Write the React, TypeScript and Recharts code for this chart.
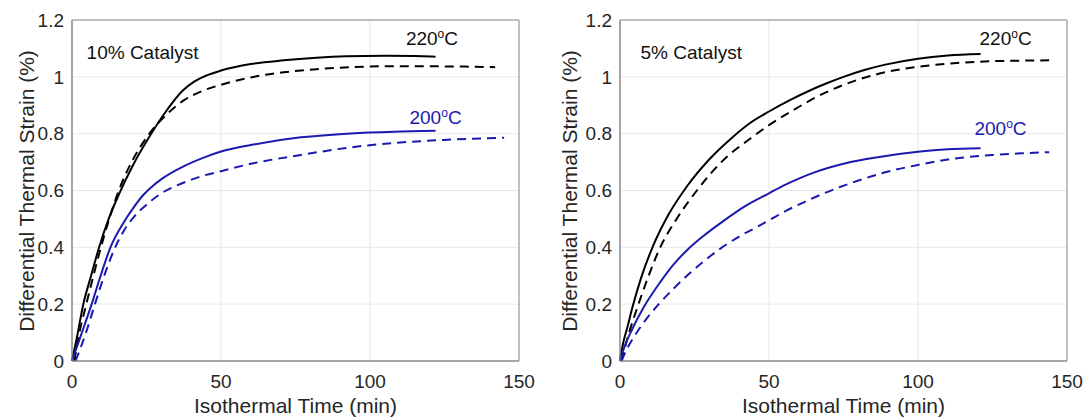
import React from 'react';
import { LineChart, Line, XAxis, YAxis, CartesianGrid, ReferenceArea, ReferenceDot } from 'recharts';

const xTicks = [0, 50, 100, 150];
const yTicks = [0, 0.2, 0.4, 0.6, 0.8, 1, 1.2];

// [time (min), strain (%)]
const cat10Hot = [
  [0, 0], [1.5, 0.075], [3.8, 0.2], [6.4, 0.3], [9.1, 0.4], [12.3, 0.5], [15.9, 0.59], [20.5, 0.69],
  [26, 0.79], [32, 0.885], [37, 0.95], [41, 0.983], [45, 1.004], [50, 1.022], [60, 1.045], [71, 1.058],
  [82, 1.067], [92, 1.072], [105, 1.074], [115, 1.073], [122, 1.071],
];
const cat10HotDash = [
  [0.8, 0], [2.5, 0.1], [4.8, 0.2], [7.2, 0.3], [9.7, 0.4], [12.5, 0.5], [15.7, 0.6], [20, 0.7],
  [25.6, 0.795], [32, 0.87], [37.6, 0.918], [43.2, 0.948], [50, 0.972], [60, 0.998], [71, 1.016],
  [82, 1.027], [93.6, 1.034], [105, 1.037], [120, 1.037], [132, 1.036], [142, 1.034],
];
const cat10Cool = [
  [0, 0], [3, 0.09], [6.6, 0.2], [9.6, 0.3], [12.9, 0.4], [17.5, 0.49], [21, 0.545], [24, 0.585],
  [27, 0.615], [30, 0.64], [37.6, 0.686], [44, 0.715], [50, 0.737], [60, 0.76], [76.8, 0.787],
  [93.6, 0.801], [108, 0.807], [122, 0.81],
];
const cat10CoolDash = [
  [1.2, 0], [4.7, 0.1], [7.7, 0.2], [10.8, 0.3], [14.5, 0.4], [17.5, 0.46], [21, 0.51], [25, 0.55],
  [30, 0.59], [37.6, 0.628], [44, 0.652], [50, 0.668], [60, 0.694], [76.8, 0.725], [93.6, 0.752],
  [108, 0.767], [125, 0.778], [145, 0.786],
];

// 5% catalyst panel
const cat5Hot = [
  [0, 0], [1, 0.06], [2.5, 0.12], [4.2, 0.19], [7, 0.29], [10.9, 0.4], [16, 0.51], [22.5, 0.615],
  [30, 0.71], [37.5, 0.785], [44, 0.84], [50, 0.878], [57, 0.918], [63.7, 0.952], [70, 0.98],
  [75, 1.0], [82, 1.024], [89, 1.043], [100, 1.064], [110, 1.075], [121, 1.08],
];
const cat5HotDash = [
  [0.5, 0], [2.5, 0.08], [6.2, 0.2], [9.6, 0.3], [13.5, 0.4], [19, 0.5], [25.8, 0.6], [34, 0.7],
  [44, 0.785], [50, 0.83], [58, 0.882], [68, 0.94], [79.3, 0.988], [89.4, 1.017], [100, 1.035],
  [112, 1.048], [125, 1.055], [135, 1.057], [144, 1.058],
];
const cat5Cool = [
  [0, 0], [1.5, 0.05], [4, 0.11], [8, 0.19], [13, 0.27], [18, 0.34], [23, 0.395], [28, 0.44],
  [35, 0.495], [42, 0.545], [50, 0.59], [55, 0.618], [60, 0.642], [65, 0.663], [70, 0.68],
  [76, 0.697], [87, 0.718], [100, 0.736], [110, 0.745], [121, 0.749],
];
const cat5CoolDash = [
  [0.5, 0], [2, 0.035], [5, 0.09], [9, 0.15], [13, 0.2], [18, 0.255], [23, 0.305], [28, 0.35],
  [34, 0.398], [40, 0.438], [46, 0.472], [50, 0.495], [56, 0.53], [62, 0.56], [68, 0.588],
  [74, 0.613], [80, 0.635], [89, 0.664], [100, 0.69], [112, 0.712], [125, 0.725], [135, 0.731],
  [144, 0.735],
];

const BLACK = '#000000';
const BLUE = '#1a1ab0';
const AXIS = '#8c8c8c';
const FONT = '"Liberation Sans", Arial, Helvetica, sans-serif';

const toPts = (arr: number[][]) => arr.map(([t, s]) => ({ t, s }));

function TempText({ viewBox, color, value }: any) {
  const cx = viewBox.x + viewBox.width / 2;
  const cy = viewBox.y + viewBox.height / 2;
  return (
    <text x={cx} y={cy + 7} textAnchor="middle" fill={color} fontSize={19} fontFamily={FONT}>
      {value}
      <tspan fontSize={12} dy={-7}>o</tspan>
      <tspan dy={7}>C</tspan>
    </text>
  );
}

function Panel({ left, width, yAxisWidth, marginRight, yLabelX, title, titleX, hot, hotDash, cool, coolDash, hotPos, coolPos }: any) {
  const lines = [
    { data: hot, color: BLACK, dash: undefined },
    { data: hotDash, color: BLACK, dash: '9 6' },
    { data: cool, color: BLUE, dash: undefined },
    { data: coolDash, color: BLUE, dash: '9 6' },
  ];
  return (
    <div style={{ position: 'absolute', left, top: 0 }}>
      <LineChart width={width} height={418} margin={{ top: 20, right: marginRight, bottom: 0, left: 0 }}>
        <CartesianGrid stroke="#e8e8e8" />
        <ReferenceArea x1={0} x2={150} y1={0} y2={1.2} fill="none" stroke={AXIS} />
        <XAxis
          type="number"
          dataKey="t"
          domain={[0, 150]}
          ticks={xTicks}
          height={57}
          tickSize={0}
          tickMargin={14}
          axisLine={{ stroke: AXIS }}
          tick={{ fill: '#262626', fontSize: 19, fontFamily: FONT }}
          label={{
            content: (p: any) => (
              <text x={p.viewBox.x + p.viewBox.width / 2} y={413} textAnchor="middle" fill="#262626" fontSize={21} fontFamily={FONT}>
                Isothermal Time (min)
              </text>
            ),
          }}
        />
        <YAxis
          type="number"
          domain={[0, 1.2]}
          ticks={yTicks}
          width={yAxisWidth}
          tickSize={0}
          tickMargin={8}
          axisLine={{ stroke: AXIS }}
          tick={{ fill: '#262626', fontSize: 19, fontFamily: FONT }}
          label={{
            content: () => (
              <text
                x={yLabelX}
                y={191}
                transform={`rotate(-90 ${yLabelX} 191)`}
                textAnchor="middle"
                fill="#262626"
                fontSize={21}
                fontFamily={FONT}
              >
                Differential Thermal Strain (%)
              </text>
            ),
          }}
        />
        {lines.map((l, i) => (
          <Line
            key={i}
            data={toPts(l.data)}
            dataKey="s"
            type="monotone"
            stroke={l.color}
            strokeWidth={2}
            strokeDasharray={l.dash}
            dot={false}
            activeDot={false}
            isAnimationActive={false}
          />
        ))}
        <ReferenceDot
          x={titleX}
          y={1.087}
          r={1}
          fill="none"
          stroke="none"
          label={{
            content: (p: any) => (
              <text x={p.viewBox.x + 1} y={p.viewBox.y + 1 + 7} fill="#111" fontSize={19} fontFamily={FONT}>
                {title}
              </text>
            ),
          }}
        />
        <ReferenceDot
          x={hotPos[0]}
          y={hotPos[1]}
          r={1}
          fill="none"
          stroke="none"
          label={{ content: (p: any) => <TempText viewBox={p.viewBox} color="#111" value="220" /> }}
        />
        <ReferenceDot
          x={coolPos[0]}
          y={coolPos[1]}
          r={1}
          fill="none"
          stroke="none"
          label={{ content: (p: any) => <TempText viewBox={p.viewBox} color={BLUE} value="200" /> }}
        />
      </LineChart>
    </div>
  );
}

export default function App() {
  return (
    <div style={{ position: 'absolute', left: 0, top: 0, width: 1083, height: 418, background: '#fff' }}>
      <Panel
        left={0}
        width={540}
        yAxisWidth={72}
        marginRight={21}
        yLabelX={33.5}
        title="10% Catalyst"
        titleX={4.9}
        hot={cat10Hot}
        hotDash={cat10HotDash}
        cool={cat10Cool}
        coolDash={cat10CoolDash}
        hotPos={[120.8, 1.137]}
        coolPos={[122, 0.859]}
      />
      <Panel
        left={540}
        width={543}
        yAxisWidth={80}
        marginRight={16}
        yLabelX={37}
        title="5% Catalyst"
        titleX={6.9}
        hot={cat5Hot}
        hotDash={cat5HotDash}
        cool={cat5Cool}
        coolDash={cat5CoolDash}
        hotPos={[129.4, 1.137]}
        coolPos={[127.7, 0.82]}
      />
    </div>
  );
}
